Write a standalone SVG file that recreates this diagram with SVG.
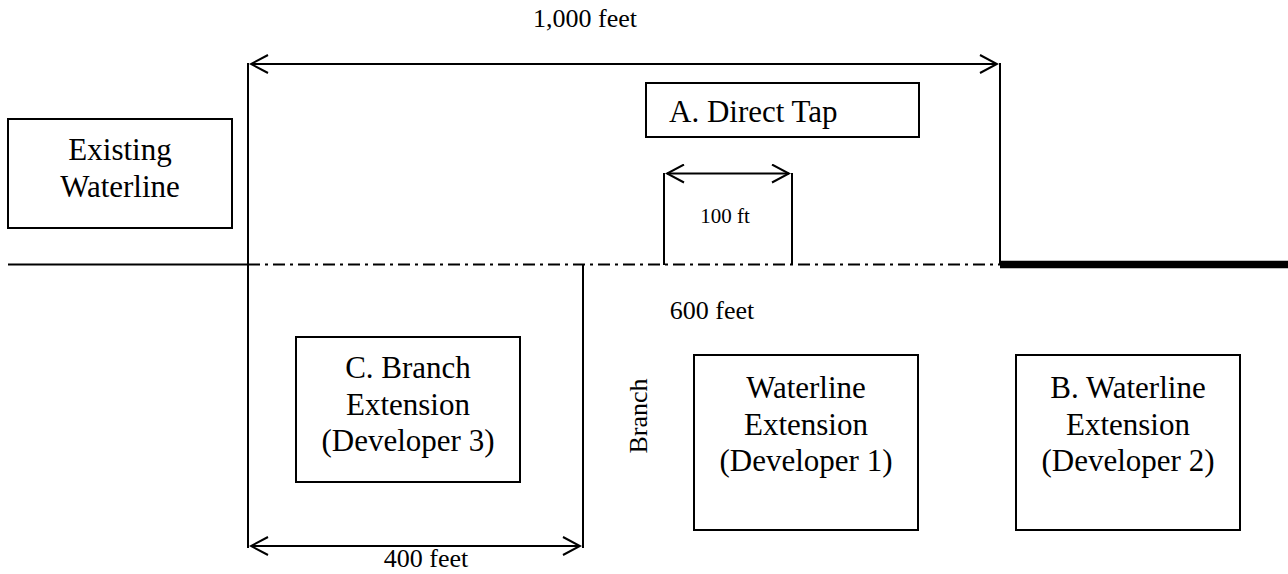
<svg xmlns="http://www.w3.org/2000/svg" width="1288" height="574" viewBox="0 0 1288 574">
  <defs>
    <style>
      text { font-family: "Liberation Serif", "Times New Roman", serif; fill: #000; }
      .box { fill: #fff; stroke: #000; stroke-width: 2; }
      .lbl { font-size: 31px; text-anchor: middle; }
      .dim { font-size: 26px; text-anchor: middle; }
      .small { font-size: 21px; }
      .ln { stroke: #000; stroke-width: 2; fill: none; }
      .dashdot { stroke: #000; stroke-width: 2; fill: none; stroke-dasharray: 12 5 3 5; }
      .head { stroke: #000; stroke-width: 2; fill: none; }
    </style>
    <marker id="chev" viewBox="0 0 20 20" refX="18" refY="10" markerWidth="20" markerHeight="20" markerUnits="userSpaceOnUse" orient="auto-start-reverse">
      <path d="M1,1 L18,10 L1,19" class="head"/>
    </marker>
  </defs>

  <rect width="1288" height="574" fill="#fff"/>

  <!-- pipe runs and dimension lines -->
  <g id="connectors">
    <!-- existing main, planned run, extension beyond -->
    <line x1="8" y1="264.5" x2="248" y2="264.5" class="ln"/>
    <line x1="248" y1="264.5" x2="1000" y2="264.5" class="dashdot"/>
    <line x1="1000" y1="264.5" x2="1288" y2="264.5" stroke="#000" stroke-width="7.5"/>

    <!-- extension / witness lines -->
    <line x1="248" y1="63" x2="248" y2="548" class="ln"/>
    <line x1="1000" y1="63" x2="1000" y2="265" class="ln"/>
    <line x1="664" y1="173" x2="664" y2="265" class="ln"/>
    <line x1="792" y1="173" x2="792" y2="265" class="ln"/>
    <line x1="583" y1="265" x2="583" y2="548" class="ln"/>

    <!-- dimension arrows -->
    <line x1="251" y1="64" x2="997" y2="64" class="ln" marker-start="url(#chev)" marker-end="url(#chev)"/>
    <line x1="667" y1="173.5" x2="789" y2="173.5" class="ln" marker-start="url(#chev)" marker-end="url(#chev)"/>
    <line x1="251" y1="546" x2="580" y2="546" class="ln" marker-start="url(#chev)" marker-end="url(#chev)"/>
  </g>

  <!-- dimension labels -->
  <text class="dim" x="585" y="27">1,000 feet</text>
  <text class="dim small" x="725" y="223">100 ft</text>
  <text class="dim" x="712" y="319">600 feet</text>
  <text class="dim" x="426" y="567">400 feet</text>
  <text class="dim" x="0" y="0" transform="translate(647 416) rotate(-90)">Branch</text>

  <g id="existing-waterline">
    <rect class="box" x="8" y="119" width="224" height="109"/>
    <text class="lbl" x="120" y="160">Existing</text>
    <text class="lbl" x="120" y="197">Waterline</text>
  </g>

  <g id="direct-tap">
    <rect class="box" x="646" y="83" width="273" height="54"/>
    <text class="lbl" x="669" y="122" style="text-anchor:start">A. Direct Tap</text>
  </g>

  <g id="branch-extension">
    <rect class="box" x="296" y="337" width="224" height="145"/>
    <text class="lbl" x="408" y="378">C. Branch</text>
    <text class="lbl" x="408" y="415">Extension</text>
    <text class="lbl" x="408" y="451">(Developer 3)</text>
  </g>

  <g id="waterline-extension-1">
    <rect class="box" x="694" y="355" width="224" height="175"/>
    <text class="lbl" x="806" y="398">Waterline</text>
    <text class="lbl" x="806" y="435">Extension</text>
    <text class="lbl" x="806" y="471">(Developer 1)</text>
  </g>

  <g id="waterline-extension-2">
    <rect class="box" x="1016" y="355" width="224" height="175"/>
    <text class="lbl" x="1128" y="398">B. Waterline</text>
    <text class="lbl" x="1128" y="435">Extension</text>
    <text class="lbl" x="1128" y="471">(Developer 2)</text>
  </g>
</svg>
